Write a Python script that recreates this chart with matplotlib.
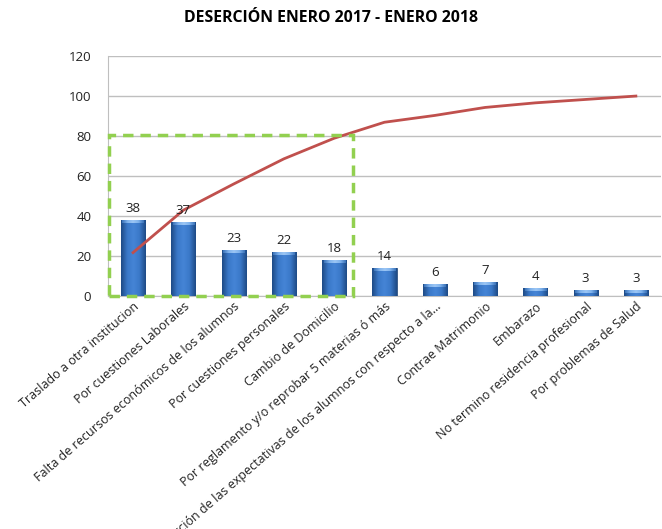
import numpy as np
import matplotlib.pyplot as plt
from matplotlib.patches import Rectangle
from matplotlib.colors import LinearSegmentedColormap

# Causes of dropout (Pareto order)
categorias = [
    'Traslado a otra institucion',
    'Por cuestiones Laborales',
    'Falta de recursos económicos de los alumnos',
    'Por cuestiones personales',
    'Cambio de Domicilio',
    'Por reglamento y/o reprobar 5 materias ó más',
    'Insatisfacción de las expectativas de los alumnos con respecto a la...',
    'Contrae Matrimonio',
    'Embarazo',
    'No termino residencia profesional',
    'Por problemas de Salud',
]
alumnos = [38, 37, 23, 22, 18, 14, 6, 7, 4, 3, 3]
# cumulative percentage line
acumulado = [21.7, 42.9, 56.0, 68.6, 78.9, 86.9, 90.3, 94.3, 96.6, 98.3, 100.0]
yticks = [0, 20, 40, 60, 80, 100, 120]

plt.rcParams['font.family'] = ['Open Sans', 'DejaVu Sans']

fig = plt.figure(figsize=(6.62, 5.29), dpi=100)
ax = fig.add_axes([0.163, 0.4405, 0.8355, 0.4535])

x = np.arange(len(categorias))
bars = ax.bar(x, alumnos, width=0.48, color='none', edgecolor='#1F4578',
              linewidth=0.6, zorder=3)

# horizontal gradient (dark edges, light centre) + lighter top bevel
body = LinearSegmentedColormap.from_list('body', ['#1E4A85', '#3A78C8', '#4585D6', '#3A78C8', '#1E4A85'])
cap = LinearSegmentedColormap.from_list('cap', ['#3A72B8', '#7FB2EC', '#9CC6F4', '#7FB2EC', '#3A72B8'])
grad = np.linspace(0, 1, 64).reshape(1, -1)
for b in bars:
    x0, y0, w, h = b.get_x(), b.get_y(), b.get_width(), b.get_height()
    im = ax.imshow(grad, cmap=body, aspect='auto', extent=(x0, x0 + w, y0, y0 + h),
                   zorder=3, interpolation='bicubic')
    im.set_clip_path(b)
    capimg = ax.imshow(grad, cmap=cap, aspect='auto',
                       extent=(x0 + 0.03, x0 + w - 0.03, y0 + h - 1.6, y0 + h - 0.3),
                       zorder=3.1, interpolation='bicubic')
    capimg.set_clip_path(b)

for xi, v in zip(x, alumnos):
    ax.text(xi, v + 2.5, str(v), ha='center', va='bottom', fontsize=9.5,
            color='#222222', zorder=5)

ax.plot(x, acumulado, color='#C0504D', linewidth=2, zorder=4)

# highlight the vital few
ax.add_patch(Rectangle((-0.48, 0), 4.85, 80.5, fill=False, edgecolor='#92D050',
                       linestyle=(0, (3, 2)), linewidth=2.5, zorder=6,
                       clip_on=False))

ax.set_xlim(-0.5, len(categorias) - 0.5)
ax.set_ylim(0, 120)
ax.set_yticks(yticks)
ax.tick_params(axis='y', length=0, labelsize=9.5, pad=12, colors='#222222')
ax.tick_params(axis='x', length=0, pad=3)
ax.set_xticks(x)
ax.set_xticklabels(categorias, rotation=41, ha='right', rotation_mode='anchor',
                   fontsize=9, color='#222222')
ax.grid(axis='y', color='#BFBFBF', linewidth=1, zorder=0)
for s in ['top', 'right']:
    ax.spines[s].set_visible(False)
ax.spines['left'].set_color('#BFBFBF')
ax.spines['bottom'].set_color('#BFBFBF')

fig.text(0.5, 0.966, 'DESERCIÓN ENERO 2017 - ENERO 2018', ha='center',
         va='center', fontsize=11.4, fontweight='bold')

fig.savefig('out.png', dpi=100)
